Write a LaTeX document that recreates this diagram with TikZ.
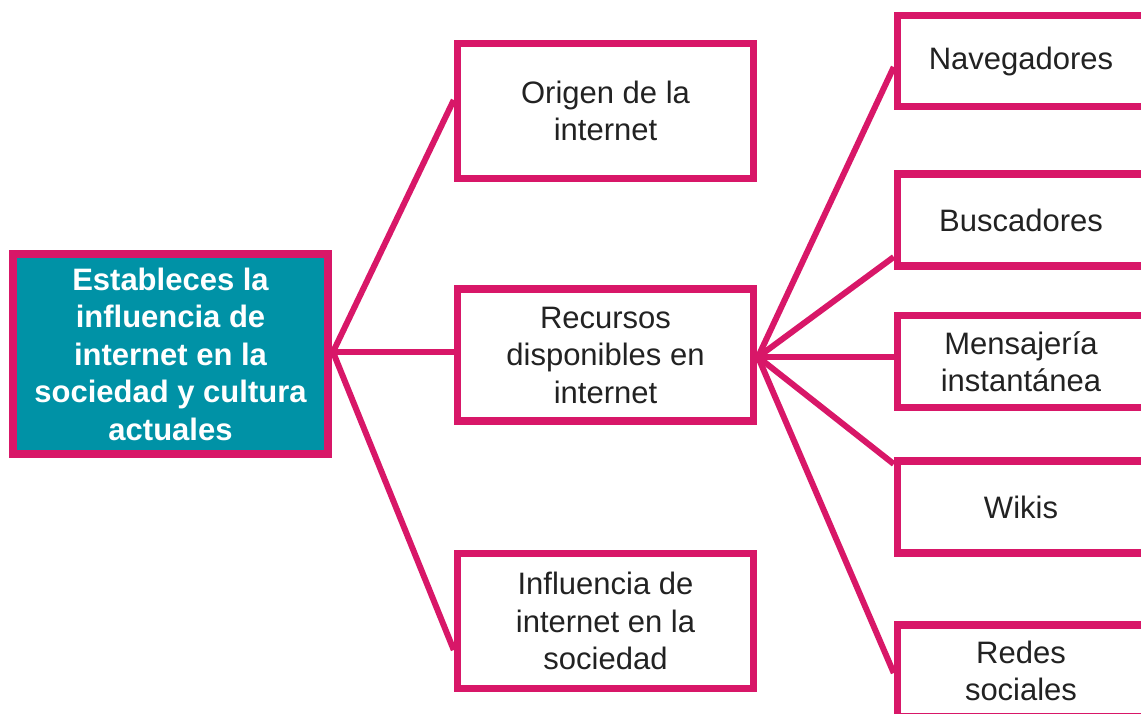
\documentclass[tikz,border=0pt]{standalone}
\usepackage{fontspec}
\setmainfont{Liberation Sans}
\definecolor{pinkc}{RGB}{216,23,104}
\definecolor{tealc}{RGB}{0,146,166}
\definecolor{txt}{RGB}{34,34,34}
\begin{document}
\begin{tikzpicture}[x=1pt,y=-1pt,
  box/.style={draw=pinkc,line width=7.5pt,fill=white,rectangle,inner sep=0pt,
    align=center,text=txt,font=\fontsize{31}{37.5}\selectfont},
  mainbox/.style={box,fill=tealc,text=white,font=\bfseries\fontsize{31}{37.5}\selectfont},
  conn/.style={draw=pinkc,line width=6pt,line cap=butt,line join=miter}]
\useasboundingbox (0,0) rectangle (1141,714);
\clip (0,0) rectangle (1141,714);
% hubs
\coordinate (hubL) at (333,352);
\coordinate (hubR) at (758,357);
% main box
\node[mainbox,minimum width=315pt,minimum height=200pt] (main) at (170.5,354) {Estableces la\\influencia de\\internet en la\\sociedad y cultura\\actuales};
% middle column
\node[box,minimum width=296pt,minimum height=135pt] (origen) at (605.5,111) {Origen de la\\internet};
\node[box,minimum width=296pt,minimum height=132pt] (recursos) at (605.5,355) {Recursos\\disponibles en\\internet};
\node[box,minimum width=296pt,minimum height=135pt] (influencia) at (605.5,621) {Influencia de\\internet en la\\sociedad};
% right column
\node[box,minimum width=247pt,minimum height=91pt] (nav) at (1021,61) {Navegadores};
\node[box,minimum width=247pt,minimum height=92pt] (busc) at (1021,220) {Buscadores};
\node[box,minimum width=247pt,minimum height=92pt] (mens) at (1021,361.5) {Mensajería\\instantánea};
\node[box,minimum width=247pt,minimum height=92pt] (wikis) at (1021,507) {Wikis};
\node[box,minimum width=247pt,minimum height=92pt] (redes) at (1021,671) {Redes\\sociales};
% left connectors
\draw[conn] (hubL) -- ([yshift=11pt]origen.west);
\draw[conn] (hubL) -- (recursos.west |- hubL);
\draw[conn] (hubL) -- ([yshift=-29pt]influencia.west);
\draw[conn] (main.east |- hubL) -- (hubL);
% right connectors
\draw[conn] (hubR) -- ([yshift=-6pt]nav.west);
\draw[conn] (hubR) -- ([yshift=-37pt]busc.west);
\draw[conn] (hubR) -- (mens.west |- hubR);
\draw[conn] (hubR) -- ([yshift=43pt]wikis.west);
\draw[conn] (hubR) -- ([yshift=-2pt]redes.west);
\draw[conn] (recursos.east |- hubR) -- (hubR);
\end{tikzpicture}
\end{document}
